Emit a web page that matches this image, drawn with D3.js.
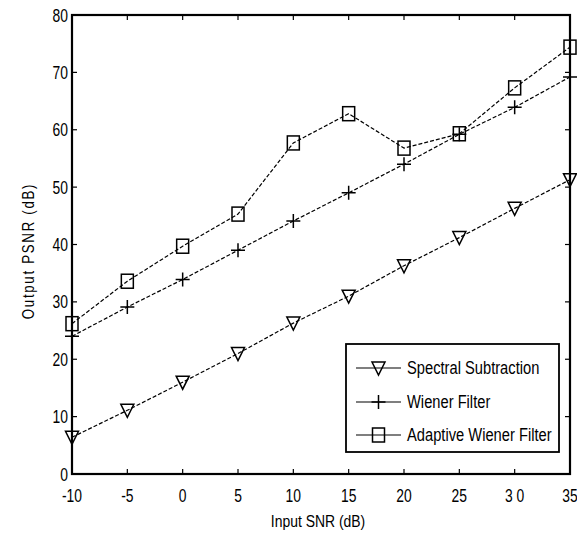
<!DOCTYPE html>
<html>
<head>
<meta charset="utf-8">
<script src="https://cdn.jsdelivr.net/npm/d3@7"></script>
<style>
  html, body { margin: 0; padding: 0; background: #fff; }
  svg { display: block; }
  text { font-family: "Liberation Sans", Arial, sans-serif; fill: #000; }
</style>
</head>
<body>
<div id="chart"></div>
<script>
// Input SNR (dB) on the x axis
const snr = [-10, -5, 0, 5, 10, 15, 20, 25, 30, 35];
// Output PSNR (dB) for each method
const spectralSubtraction = [6.4, 11.1, 16.0, 21.0, 26.3, 31.0, 36.3, 41.2, 46.3, 51.3];
const wienerFilter        = [24.0, 29.1, 33.9, 39.0, 44.1, 49.0, 54.0, 59.2, 63.9, 69.2];
const adaptiveWiener      = [26.2, 33.6, 39.7, 45.3, 57.7, 62.8, 56.8, 59.3, 67.3, 74.4];

const xTicks = [-10, -5, 0, 5, 10, 15, 20, 25, 30, 35];
const xTickLabels = ["-10", "-5", "0", "5", "10", "15", "20", "25", "3 0", "35"];
const yTicks = [0, 10, 20, 30, 40, 50, 60, 70, 80];

const seriesNames = ["Spectral Subtraction", "Wiener Filter", "Adaptive Wiener Filter"];
const seriesValues = [spectralSubtraction, wienerFilter, adaptiveWiener];
const seriesMarkers = ["triangle", "plus", "square"];

const W = 577, H = 540;
const margin = { left: 72, right: 7, top: 15, bottom: 66 };
const x0 = margin.left, x1 = W - margin.right;
const y0 = H - margin.bottom, y1 = margin.top;

const svg = d3.select("#chart").append("svg").attr("width", W).attr("height", H);

const x = d3.scaleLinear().domain([-10, 35]).range([x0, x1]);
const y = d3.scaleLinear().domain([0, 80]).range([y0, y1]);

// Condensed text: horizontally squeezed glyphs
function narrowText(parent, tx, ty, str, size, sx, anchor, rotate) {
  const t = parent.append("text")
    .attr("transform", `translate(${tx},${ty})${rotate ? " rotate(" + rotate + ")" : ""} scale(${sx},1)`)
    .attr("font-size", size)
    .attr("text-anchor", anchor || "start")
    .text(str);
  return t;
}

// Inward ticks on all four sides
const tick = 5;
const gTicks = svg.append("g").attr("stroke", "#000").attr("stroke-width", 1.2);
xTicks.forEach(v => {
  gTicks.append("line").attr("x1", x(v)).attr("x2", x(v)).attr("y1", y0).attr("y2", y0 - tick);
  gTicks.append("line").attr("x1", x(v)).attr("x2", x(v)).attr("y1", y1).attr("y2", y1 + tick);
});
yTicks.forEach(v => {
  gTicks.append("line").attr("x1", x0).attr("x2", x0 + tick).attr("y1", y(v)).attr("y2", y(v));
  gTicks.append("line").attr("x1", x1).attr("x2", x1 - tick).attr("y1", y(v)).attr("y2", y(v));
});

// Frame
svg.append("rect")
  .attr("x", x0).attr("y", y1).attr("width", x1 - x0).attr("height", y0 - y1)
  .attr("fill", "none").attr("stroke", "#000").attr("stroke-width", 2.2);

// Tick labels
const gxl = svg.append("g");
xTicks.forEach((v, i) => narrowText(gxl, x(v), y0 + 28, xTickLabels[i], 18.5, 0.75, "middle"));
const gyl = svg.append("g");
yTicks.forEach(v => narrowText(gyl, x0 - 4, y(v) + 6.5, String(v), 18.5, 0.75, "end"));

// Axis titles
narrowText(svg, 318, 527, "Input SNR (dB)", 17, 0.82, "middle");
narrowText(svg, 34, 251, "Output PSNR (dB)", 17, 0.78, "middle", -90)
  .attr("letter-spacing", 2.2);

function drawMarker(g, type, cx, cy) {
  if (type === "triangle") {
    g.append("path")
      .attr("d", `M${cx - 6.5},${cy - 6} L${cx + 6.5},${cy - 6} L${cx},${cy + 7} Z`)
      .attr("fill", "none").attr("stroke", "#000").attr("stroke-width", 1.5);
  } else if (type === "plus") {
    g.append("path")
      .attr("d", `M${cx - 7},${cy} L${cx + 7},${cy} M${cx},${cy - 7} L${cx},${cy + 7}`)
      .attr("fill", "none").attr("stroke", "#000").attr("stroke-width", 1.5);
  } else {
    g.append("rect")
      .attr("x", cx - 6).attr("y", cy - 7).attr("width", 12).attr("height", 14)
      .attr("fill", "none").attr("stroke", "#000").attr("stroke-width", 1.5);
  }
}

const line = d3.line().x((d, i) => x(snr[i])).y(d => y(d));

seriesValues.forEach((vals, s) => {
  const g = svg.append("g");
  g.append("path").datum(vals).attr("d", line)
    .attr("fill", "none").attr("stroke", "#000").attr("stroke-width", 1.2)
    .attr("stroke-dasharray", "4,2");
  vals.forEach((v, i) => drawMarker(g, seriesMarkers[s], x(snr[i]), y(v)));
});

// Legend
const lg = svg.append("g");
lg.append("rect").attr("x", 346).attr("y", 344).attr("width", 213).attr("height", 108)
  .attr("fill", "#fff").attr("stroke", "#000").attr("stroke-width", 1.8);
const rowY = [368, 402, 435];
seriesNames.forEach((name, s) => {
  const ly = rowY[s];
  lg.append("line").attr("x1", 356).attr("x2", 401).attr("y1", ly).attr("y2", ly)
    .attr("stroke", "#000").attr("stroke-width", 1.2);
  drawMarker(lg, seriesMarkers[s], 378.5, ly);
  narrowText(lg, 407, ly + 6, name, 17.5, 0.84, "start");
});
</script>
</body>
</html>
